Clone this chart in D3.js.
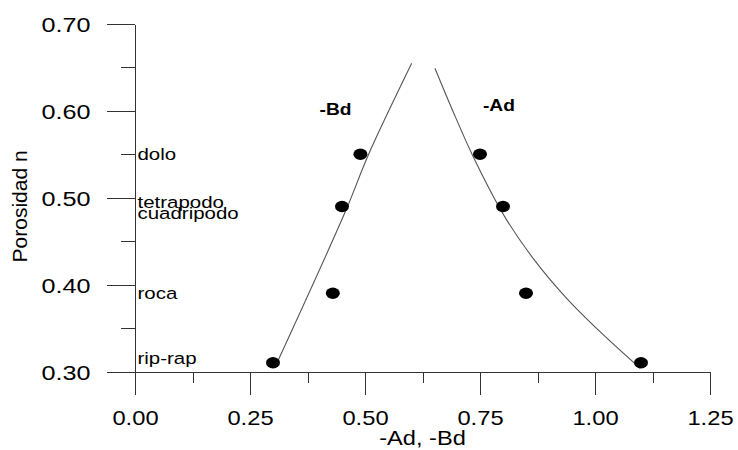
<!DOCTYPE html>
<html>
<head>
<meta charset="utf-8">
<script src="https://cdn.jsdelivr.net/npm/d3@7"></script>
<style>
  body { margin: 0; background: #fff; }
  text { font-family: "Liberation Sans", Arial, sans-serif; fill: #000; }
  .axis path, .axis line { stroke: #333; stroke-width: 1; shape-rendering: crispEdges; }
</style>
</head>
<body>
<script>
// values
var xTicks = [0, 0.25, 0.5, 0.75, 1.0, 1.25],
    xMinor = [0.125, 0.375, 0.625, 0.875, 1.125],
    yTicks = [0.3, 0.4, 0.5, 0.6, 0.7],
    yMinor = [0.35, 0.45, 0.55, 0.65];

// measured points
var bdX = [0.30, 0.43, 0.45, 0.49],
    bdN = [0.31, 0.39, 0.49, 0.55],
    adX = [1.10, 0.85, 0.80, 0.75],
    adN = [0.31, 0.39, 0.49, 0.55];

// fitted curves
var bdCurveX = [0.3115, 0.4587, 0.507, 0.6015],
    bdCurveN = [0.3132, 0.4858, 0.549, 0.6547],
    adCurveX = [1.098, 1.0109, 0.9384, 0.8659, 0.804, 0.7355, 0.690, 0.652],
    adCurveN = [0.3037, 0.3458, 0.3842, 0.430, 0.478, 0.547, 0.601, 0.649];

// material labels
var matNames = ["dolo", "tetrapodo", "cuadripodo", "roca", "rip-rap"],
    matN = [0.55, 0.495, 0.483, 0.39, 0.315];

var W = 738, H = 450;
var x = d3.scaleLinear().domain([0, 1.25]).range([135, 710]);
var y = d3.scaleLinear().domain([0.3, 0.7]).range([371.5, 24]);

var svg = d3.select("body").append("svg")
    .attr("width", W)
    .attr("height", H);

// the picture is a bit wide: stretch texts horizontally around their anchor
function stretch(sel, s) {
  sel.each(function() {
    var t = d3.select(this);
    var tx = +t.attr("x") || 0, ty = +t.attr("y") || 0;
    t.attr("x", 0).attr("y", 0)
     .attr("transform", "translate(" + tx + "," + ty + ") scale(" + s + ",1)");
  });
}

// minor ticks
svg.append("g").attr("class", "axis")
  .attr("transform", "translate(0," + y(0.3) + ")")
  .call(d3.axisBottom(x).tickValues(xMinor).tickSize(11).tickSizeOuter(0).tickFormat(""))
  .select(".domain").remove();
svg.append("g").attr("class", "axis")
  .attr("transform", "translate(" + x(0) + ",0)")
  .call(d3.axisLeft(y).tickValues(yMinor).tickSize(14).tickSizeOuter(0).tickFormat(""))
  .select(".domain").remove();

// major x axis
var gx = svg.append("g").attr("class", "axis")
  .attr("transform", "translate(0," + y(0.3) + ")")
  .call(d3.axisBottom(x).tickValues(xTicks).tickSize(23.5).tickSizeOuter(0)
        .tickPadding(15).tickFormat(d3.format(".2f")));
gx.selectAll("text").attr("font-size", 21).attr("fill", "#000")
  .attr("y", 38.5).attr("dy", "0.71em");
stretch(gx.selectAll("text"), 1.13);

// major y axis
var gy = svg.append("g").attr("class", "axis")
  .attr("transform", "translate(" + x(0) + ",0)")
  .call(d3.axisLeft(y).tickValues(yTicks).tickSize(28).tickSizeOuter(0)
        .tickPadding(16.5).tickFormat(d3.format(".2f")));
gy.selectAll("text").attr("font-size", 21).attr("fill", "#000")
  .attr("dy", "0.36em");
stretch(gy.selectAll("text"), 1.2);
gy.selectAll("text").attr("dy", "0.36em");

// axis titles
svg.append("text")
  .attr("text-anchor", "middle")
  .attr("font-size", 20)
  .attr("transform", "translate(" + (x(0.625)) + ",445) scale(1.18,1)")
  .text("-Ad, -Bd");

svg.append("text")
  .attr("text-anchor", "middle")
  .attr("font-size", 21)
  .attr("transform", "translate(26.5," + y(0.49) + ") rotate(-90)")
  .text("Porosidad n");

// curves
var line = d3.line()
  .x(function(d) { return x(d[0]); })
  .y(function(d) { return y(d[1]); })
  .curve(d3.curveCatmullRom);

svg.append("path")
  .datum(d3.zip(bdCurveX, bdCurveN))
  .attr("d", line)
  .attr("fill", "none").attr("stroke", "#555").attr("stroke-width", 1.1);

svg.append("path")
  .datum(d3.zip(adCurveX, adCurveN))
  .attr("d", line)
  .attr("fill", "none").attr("stroke", "#555").attr("stroke-width", 1.1);

// points
var pts = d3.zip(bdX, bdN).concat(d3.zip(adX, adN));
svg.selectAll(".dot")
  .data(pts)
  .enter().append("ellipse")
  .attr("class", "dot")
  .attr("cx", function(d) { return x(d[0]); })
  .attr("cy", function(d) { return y(d[1]); })
  .attr("rx", 7)
  .attr("ry", 5.7)
  .attr("fill", "#000");

// material labels
svg.selectAll(".mat")
  .data(d3.zip(matNames, matN))
  .enter().append("text")
  .attr("class", "mat")
  .attr("font-size", 16.5)
  .attr("transform", function(d) {
    return "translate(" + (x(0) + 2.5) + "," + (y(d[1]) + 6) + ") scale(1.24,1)";
  })
  .text(function(d) { return d[0]; });

// series labels
svg.append("text")
  .attr("text-anchor", "middle").attr("font-size", 16).attr("font-weight", "bold")
  .attr("transform", "translate(" + x(0.436) + "," + (y(0.595)) + ") scale(1.2,1)")
  .text("-Bd");
svg.append("text")
  .attr("text-anchor", "middle").attr("font-size", 16).attr("font-weight", "bold")
  .attr("transform", "translate(" + x(0.791) + "," + (y(0.600)) + ") scale(1.2,1)")
  .text("-Ad");
</script>
</body>
</html>
